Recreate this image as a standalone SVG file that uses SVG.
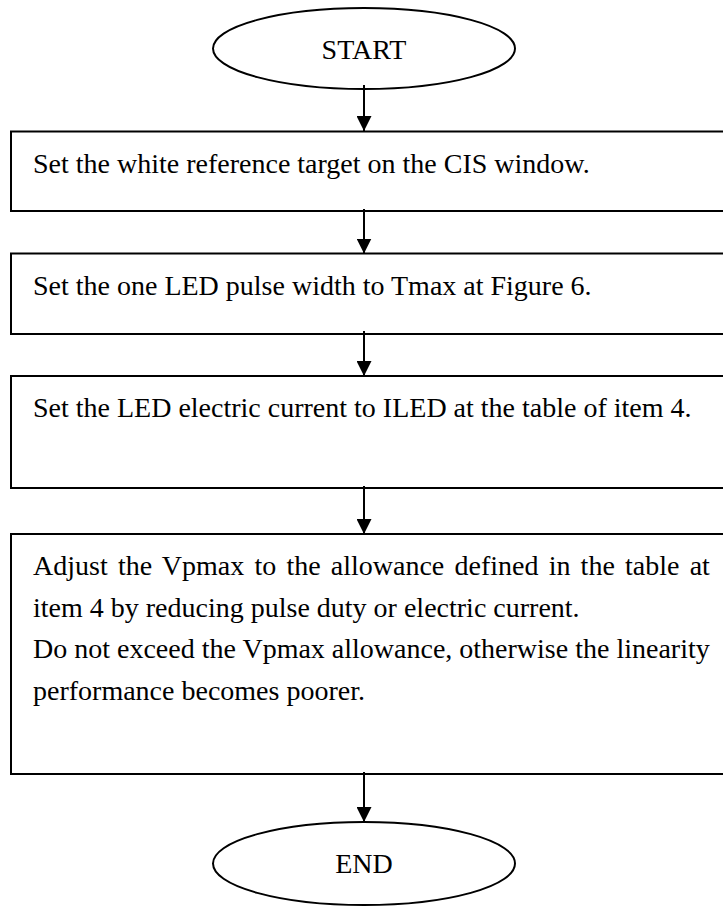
<svg xmlns="http://www.w3.org/2000/svg" width="723" height="906" viewBox="0 0 723 906">
<style>
.shape{fill:#fff;stroke:#000;stroke-width:2}
.t{font-family:"Liberation Serif","Times New Roman",serif;font-size:28px;fill:#000}
.c{text-anchor:middle}
.conn line{stroke:#000;stroke-width:2}
</style>
<defs>
<marker id="ah" markerWidth="15" markerHeight="15" refX="15" refY="7.5" orient="auto" markerUnits="userSpaceOnUse">
<path d="M0,0 L15,7.5 L0,15 Z" fill="#000"/>
</marker>
</defs>
<g id="start">
<ellipse class="shape" cx="364" cy="48.5" rx="151" ry="40.5"/>
<text class="t c" x="364" y="59">START</text>
</g>
<g id="step1">
<rect class="shape" x="11" y="131.5" width="730" height="79.5"/>
<text class="t" x="33" y="173">Set the white reference target on the CIS window.</text>
</g>
<g id="step2">
<rect class="shape" x="11" y="253.5" width="730" height="80.5"/>
<text class="t" x="33" y="295">Set the one LED pulse width to Tmax at Figure 6.</text>
</g>
<g id="step3">
<rect class="shape" x="11" y="376" width="730" height="112"/>
<text class="t" x="33" y="417">Set the LED electric current to ILED at the table of item 4.</text>
</g>
<g id="step4">
<rect class="shape" x="11" y="534" width="730" height="240"/>
<text class="t" x="33" y="575" word-spacing="3.2">Adjust the Vpmax to the allowance defined in the table at</text>
<text class="t" x="33" y="616.5">item 4 by reducing pulse duty or electric current.</text>
<text class="t" x="33" y="658">Do not exceed the Vpmax allowance, otherwise the linearity</text>
<text class="t" x="33" y="699.5">performance becomes poorer.</text>
</g>
<g id="end">
<ellipse class="shape" cx="364" cy="863.5" rx="151" ry="41.5"/>
<text class="t c" x="364" y="873">END</text>
</g>
<g id="connectors" class="conn">
<line x1="364" y1="85" x2="364" y2="131" marker-end="url(#ah)"/>
<line x1="364" y1="209" x2="364" y2="253.5" marker-end="url(#ah)"/>
<line x1="364" y1="331" x2="364" y2="376" marker-end="url(#ah)"/>
<line x1="364" y1="486" x2="364" y2="534" marker-end="url(#ah)"/>
<line x1="364" y1="772" x2="364" y2="822" marker-end="url(#ah)"/>
</g>
</svg>
